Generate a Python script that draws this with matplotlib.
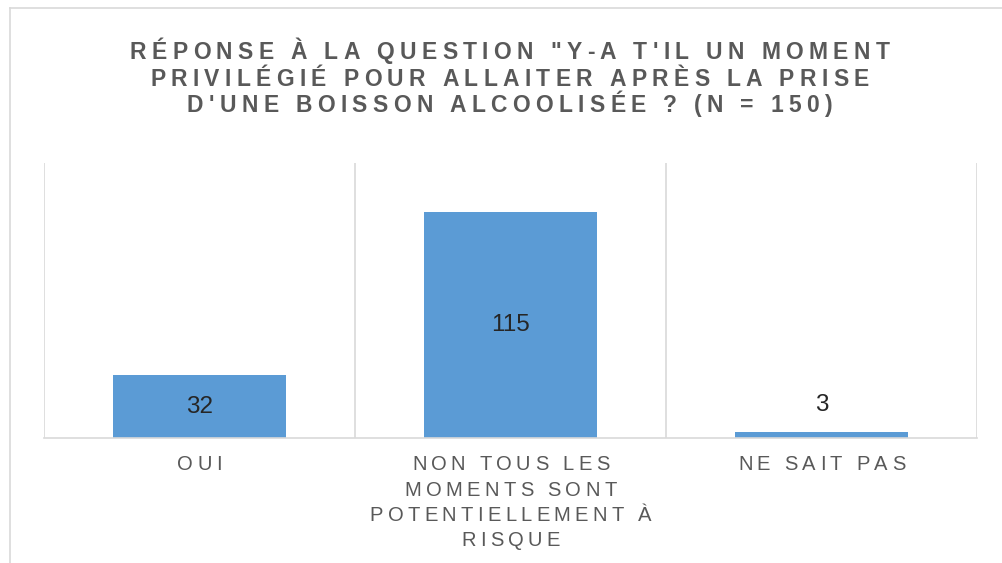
import matplotlib
matplotlib.use("Agg")
import matplotlib.pyplot as plt
from matplotlib.lines import Line2D
from matplotlib.font_manager import FontProperties, findfont, get_font

# data
categories = ["OUI", "NON TOUS LES\nMOMENTS SONT\nPOTENTIELLEMENT À\nRISQUE", "NE SAIT PAS"]
counts = [32, 115, 3]
title_lines = ['RÉPONSE À LA QUESTION "Y-A T\'IL UN MOMENT',
               "PRIVILÉGIÉ POUR ALLAITER APRÈS LA PRISE",
               "D'UNE BOISSON ALCOOLISÉE ? (N = 150)"]

W, H, DPI = 1003, 563, 100
BAR = "#5B9BD5"
GRID = "#D9D9D9"
GREY = "#595959"
FAM = "Liberation Sans"

fig = plt.figure(figsize=(W / DPI, H / DPI), dpi=DPI)

# outer chart border (cropped on the right/bottom)
fig.add_artist(Line2D([10 / W, 10 / W], [0, 1 - 8 / H], color=GRID, lw=1.2))
fig.add_artist(Line2D([10 / W, 1], [1 - 8 / H, 1 - 8 / H], color=GRID, lw=1.2))

ax = fig.add_axes([44 / W, (H - 438) / H, 933 / W, 275 / H])
x = list(range(len(counts)))
ax.bar(x, counts, width=0.556, color=BAR, zorder=2)
ax.set_xlim(-0.5, len(counts) - 0.5)
ax.set_ylim(0, 140)

for b in [i - 0.5 for i in range(len(counts) + 1)]:
    ax.axvline(b, color=GRID, lw=1.2, zorder=1)
for s in ["top", "right", "left"]:
    ax.spines[s].set_visible(False)
ax.spines["bottom"].set_color(GRID)
ax.spines["bottom"].set_linewidth(1.2)
ax.set_xticks([])
ax.set_yticks([])

# data labels
for i, v in enumerate(counts):
    if v > 10:
        ax.text(i, v / 2, str(v), ha="center", va="center", fontsize=17.5,
                color="#262626", family=FAM, zorder=3)
    else:
        ax.annotate(str(v), (i, v), xytext=(0, 19.5), textcoords="offset points",
                    ha="center", va="center", fontsize=17.5, color="#262626",
                    family=FAM)


def spaced(xc, baseline, s, size, spacing, weight="normal", color=GREY):
    # draw one line of letter-spaced text centred on xc (pixels, y from top)
    fp = FontProperties(family=FAM, size=size, weight=weight)
    font = get_font(findfont(fp))
    font.set_size(size, DPI)
    adv = [font.load_char(ord(c)).linearHoriAdvance / 65536 for c in s]
    total = sum(adv) + spacing * (len(s) - 1)
    px = xc - total / 2
    for c, a in zip(s, adv):
        fig.text(px / W, 1 - baseline / H, c, fontproperties=fp, color=color,
                 ha="left", va="baseline")
        px += a + spacing


# title
for k, line in enumerate(title_lines):
    spaced(509.5, 59 + 26.5 * k, line, 16.5, 5.3, weight="bold")

# category labels
fig.canvas.draw()
for i, lab in enumerate(categories):
    xc = ax.transData.transform((i, 0))[0]
    for k, line in enumerate(lab.split("\n")):
        spaced(xc, 470.5 + 25.2 * k, line, 14.5, 4.3)

fig.savefig("out.png", dpi=DPI, facecolor="white")
